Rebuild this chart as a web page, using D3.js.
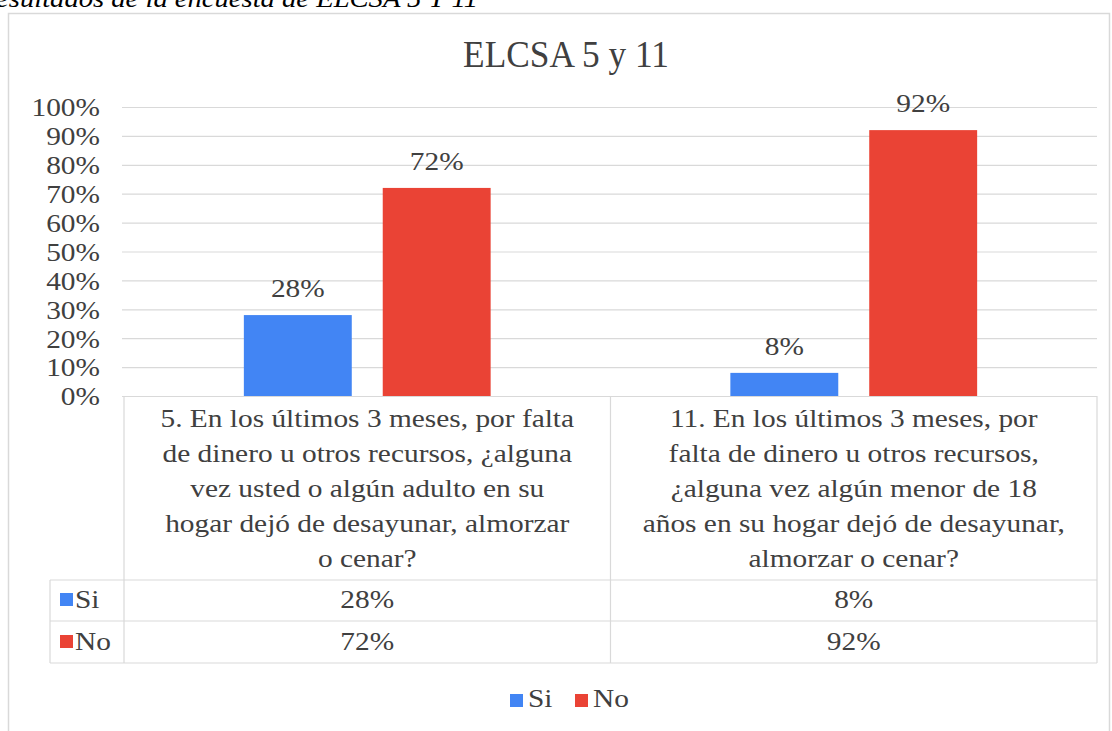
<!DOCTYPE html>
<html>
<head>
<meta charset="utf-8">
<script src="https://cdn.jsdelivr.net/npm/d3@7"></script>
<style>
html,body{margin:0;padding:0;background:#fff;}
svg{display:block;}
text{font-family:"Liberation Serif","Times New Roman",serif;}
</style>
</head>
<body>
<svg id="chart" width="1112" height="731"></svg>
<script>
// ---- data ----
const captionText = "Resultados de la encuesta de ELCSA 5 Y 11";
const chartTitle = "ELCSA 5 y 11";
const categories = ["P5", "P11"];
const categoryLines = [
  ["5. En los últimos 3 meses, por falta", "de dinero u otros recursos, ¿alguna", "vez usted o algún adulto en su", "hogar dejó de desayunar, almorzar", "o cenar?"],
  ["11. En los últimos 3 meses, por", "falta de dinero u otros recursos,", "¿alguna vez algún menor de 18", "años en su hogar dejó de desayunar,", "almorzar o cenar?"]
];
const seriesNames = ["Si", "No"];
const siValues = [0.28, 0.08];
const noValues = [0.72, 0.92];
const yTickValues = [0, 0.1, 0.2, 0.3, 0.4, 0.5, 0.6, 0.7, 0.8, 0.9, 1.0];
const seriesColors = ["#4285F4", "#EA4335"];

// ---- layout ----
const svg = d3.select("#chart");
const plotLeft = 124, plotRight = 1097, plotTop = 107, plotBottom = 396;
const sx = 1.13;
const textColor = "#404040";
const gridColor = "#d9d9d9";
const fmt = d3.format(".0%");

const valuesBySeries = [siValues, noValues];

const x0 = d3.scaleBand().domain(categories).range([plotLeft, plotRight]).paddingInner(0).paddingOuter(0);
const x1 = d3.scaleBand().domain(seriesNames).range([0, x0.bandwidth()]).paddingInner(0.223).paddingOuter(0.863);
const y = d3.scaleLinear().domain([0, 1]).range([plotBottom, plotTop]);

function addText(g, x, yy, str, opts) {
  opts = opts || {};
  return g.append("text")
    .attr("transform", `translate(${x},${yy}) scale(${opts.sx || sx},1)`)
    .attr("text-anchor", opts.anchor || "middle")
    .attr("font-size", opts.size || 26)
    .attr("font-style", opts.italic ? "italic" : null)
    .attr("fill", opts.fill || textColor)
    .text(str);
}

// outer chart frame
svg.append("path")
  .attr("d", `M8.5,731 V13.5 H1109.5 V731`)
  .attr("fill", "none").attr("stroke", gridColor).attr("stroke-width", 1.5);

// caption (partially cut off at top)
addText(svg, 478, 7, captionText, {anchor: "end", italic: true, fill: "#000", size: 26, sx: 1.1});

// title
addText(svg, 566, 67, chartTitle, {size: 38, sx: 0.93});

// gridlines
const grid = svg.append("g").attr("transform", `translate(${plotLeft - 2},0)`)
  .call(d3.axisLeft(y).tickValues(yTickValues).tickSize(-(plotRight - plotLeft + 2)).tickFormat(""));
grid.select(".domain").remove();
grid.selectAll(".tick line").attr("stroke", gridColor).attr("stroke-width", 1.2);

// y axis labels
const yAxis = svg.append("g").attr("transform", "translate(100,0)")
  .call(d3.axisLeft(y).tickValues(yTickValues).tickSize(0).tickPadding(0).tickFormat(fmt));
yAxis.select(".domain").remove();
yAxis.selectAll(".tick text")
  .attr("font-size", 26)
  .attr("font-family", '"Liberation Serif","Times New Roman",serif')
  .attr("fill", textColor)
  .attr("dy", "0.34em")
  .attr("transform", `scale(${sx},1)`);

// bars
const groups = svg.append("g").selectAll("g").data(categories).join("g")
  .attr("transform", d => `translate(${x0(d)},0)`);
groups.each(function(cat, ci) {
  const g = d3.select(this);
  seriesNames.forEach((s, si) => {
    const v = valuesBySeries[si][ci];
    g.append("rect")
      .attr("x", x1(s)).attr("width", x1.bandwidth())
      .attr("y", y(v)).attr("height", y(0) - y(v))
      .attr("fill", seriesColors[si]);
    addText(g, x1(s) + x1.bandwidth() / 2, y(v) - 18, fmt(v));
  });
});

// data table
const tableLeft = 50;
const rowTop = 580, rowMid = 621, rowBottom = 663;
const table = svg.append("g").attr("stroke", gridColor).attr("stroke-width", 1.2).attr("fill", "none");
[rowTop, rowMid, rowBottom].forEach(yy => table.append("line").attr("x1", tableLeft).attr("x2", plotRight).attr("y1", yy).attr("y2", yy));
table.append("line").attr("x1", tableLeft).attr("x2", tableLeft).attr("y1", rowTop).attr("y2", rowBottom);
const bounds = categories.map(c => x0(c)).concat([plotRight]);
bounds.forEach(bx => table.append("line").attr("x1", bx).attr("x2", bx).attr("y1", plotBottom).attr("y2", rowBottom));

// category labels in header
categories.forEach((c, ci) => {
  const cx = x0(c) + x0.bandwidth() / 2;
  categoryLines[ci].forEach((ln, li) => addText(svg, cx, 427 + li * 35, ln));
});

// rows
const rowBaselines = [608, 650];
seriesNames.forEach((s, si) => {
  svg.append("rect").attr("x", 60).attr("y", rowBaselines[si] - 15).attr("width", 13).attr("height", 13).attr("fill", seriesColors[si]);
  addText(svg, 75, rowBaselines[si], s, {anchor: "start"});
  categories.forEach((c, ci) => {
    addText(svg, x0(c) + x0.bandwidth() / 2, rowBaselines[si], fmt(valuesBySeries[si][ci]));
  });
});

// bottom legend
const legendX = [510, 575];
seriesNames.forEach((s, si) => {
  svg.append("rect").attr("x", legendX[si]).attr("y", 694).attr("width", 13).attr("height", 13).attr("fill", seriesColors[si]);
  addText(svg, legendX[si] + 18, 707, s, {anchor: "start"});
});
</script>
</body>
</html>
